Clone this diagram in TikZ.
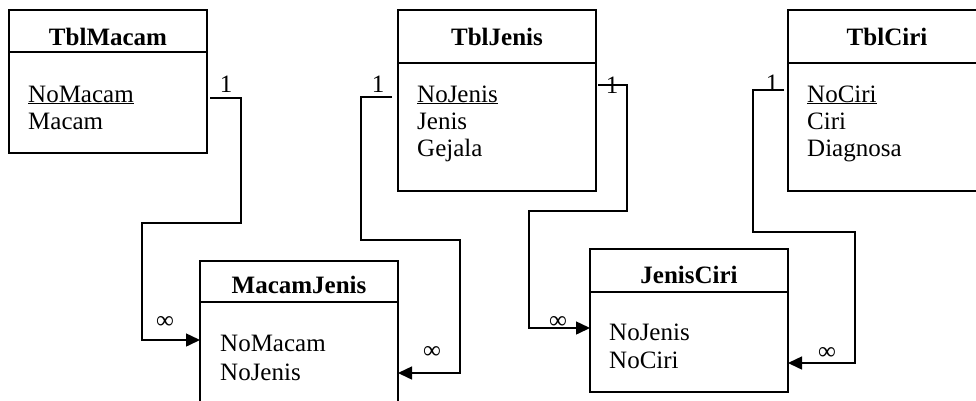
\documentclass[tikz,border=0pt]{standalone}
\usepackage{fontspec}
\setmainfont{Liberation Serif}
\usetikzlibrary{arrows.meta,calc}
\begin{document}
\begin{tikzpicture}[x=1pt,y=-1pt,
  tbl/.style={draw,line width=1.5pt,inner sep=0pt,outer sep=0pt},
  hdr/.style={line width=1.5pt},
  ttl/.style={font=\fontsize{25}{27}\selectfont\bfseries,anchor=base,inner sep=0pt},
  att/.style={font=\fontsize{25}{27}\selectfont,anchor=base west,inner sep=0pt},
  card/.style={font=\fontsize{25}{27}\selectfont,inner sep=0pt},
  conn/.style={line width=1.5pt},
  arr/.style={conn,-{Triangle[length=14pt,width=13pt]}}]
\useasboundingbox (0,0) rectangle (976,400);
\begin{scope}
\clip (0,0) rectangle (976,400);
% ---- TblMacam
\node[tbl,minimum width=198pt,minimum height=143pt] (macam) at (108,81.5) {};
\draw[hdr] (macam.west |- 0,52) -- (macam.east |- 0,52);
\node[ttl] (macamT) at (108,45) {TblMacam};
\node[att] (macamA1) at (28,102) {\underline{NoMacam}};
\node[att] (macamA2) at (28,129) {Macam};
% ---- TblJenis
\node[tbl,minimum width=198pt,minimum height=181pt] (jenis) at (497,100.5) {};
\draw[hdr] (jenis.west |- 0,63) -- (jenis.east |- 0,63);
\node[ttl] (jenisT) at (497,45) {TblJenis};
\node[att] (jenisA1) at (417,102) {\underline{NoJenis}};
\node[att] (jenisA2) at (417,129) {Jenis};
\node[att] (jenisA3) at (417,156) {Gejala};
% ---- TblCiri
\node[tbl,minimum width=198pt,minimum height=181pt] (ciri) at (887,100.5) {};
\draw[hdr] (ciri.west |- 0,63) -- (ciri.east |- 0,63);
\node[ttl] (ciriT) at (887,45) {TblCiri};
\node[att] (ciriA1) at (807,102) {\underline{NoCiri}};
\node[att] (ciriA2) at (807,129) {Ciri};
\node[att] (ciriA3) at (807,156) {Diagnosa};
% ---- MacamJenis
\node[tbl,minimum width=198pt,minimum height=160pt] (mj) at (299,341) {};
\draw[hdr] (mj.west |- 0,302) -- (mj.east |- 0,302);
\node[ttl] (mjT) at (299,293) {MacamJenis};
\node[att] (mjA1) at (220,351) {NoMacam};
\node[att] (mjA2) at (220,380) {NoJenis};
% ---- JenisCiri
\node[tbl,minimum width=198pt,minimum height=143pt] (jc) at (689,320.5) {};
\draw[hdr] (jc.west |- 0,292) -- (jc.east |- 0,292);
\node[ttl] (jcT) at (689,283) {JenisCiri};
\node[att] (jcA1) at (609,340) {NoJenis};
\node[att] (jcA2) at (609,368) {NoCiri};
% ---- connectors
\draw[arr] ($(macam.east |- 0,98)+(3,0)$) -- (241,98) -- (241,223) -- (142,223) -- (142,340) -- (mj.west |- 0,340);
\draw[arr] ($(jenis.west |- 0,97)+(-6,0)$) -- (361,97) -- (361,240) -- (460,240) -- (460,373) -- (mj.east |- 0,373);
\draw[arr] ($(jenis.east |- 0,85)+(2,0)$) -- (627,85) -- (627,211) -- (529,211) -- (529,328) -- (jc.west |- 0,328);
\draw[arr] ($(ciri.west |- 0,90)+(-4,0)$) -- (753,90) -- (753,232) -- (855,232) -- (855,363) -- (jc.east |- 0,363);
% ---- cardinalities
\node[card] (k1a) at (226,84) {1};
\node[card] (k1b) at (165,322) {\symbol{"221E}};
\node[card] (k2a) at (378,84) {1};
\node[card] (k2b) at (432,352) {\symbol{"221E}};
\node[card] (k3a) at (612,85) {1};
\node[card] (k3b) at (558,322) {\symbol{"221E}};
\node[card] (k4a) at (772,83) {1};
\node[card] (k4b) at (827,353) {\symbol{"221E}};
\end{scope}
\end{tikzpicture}
\end{document}
